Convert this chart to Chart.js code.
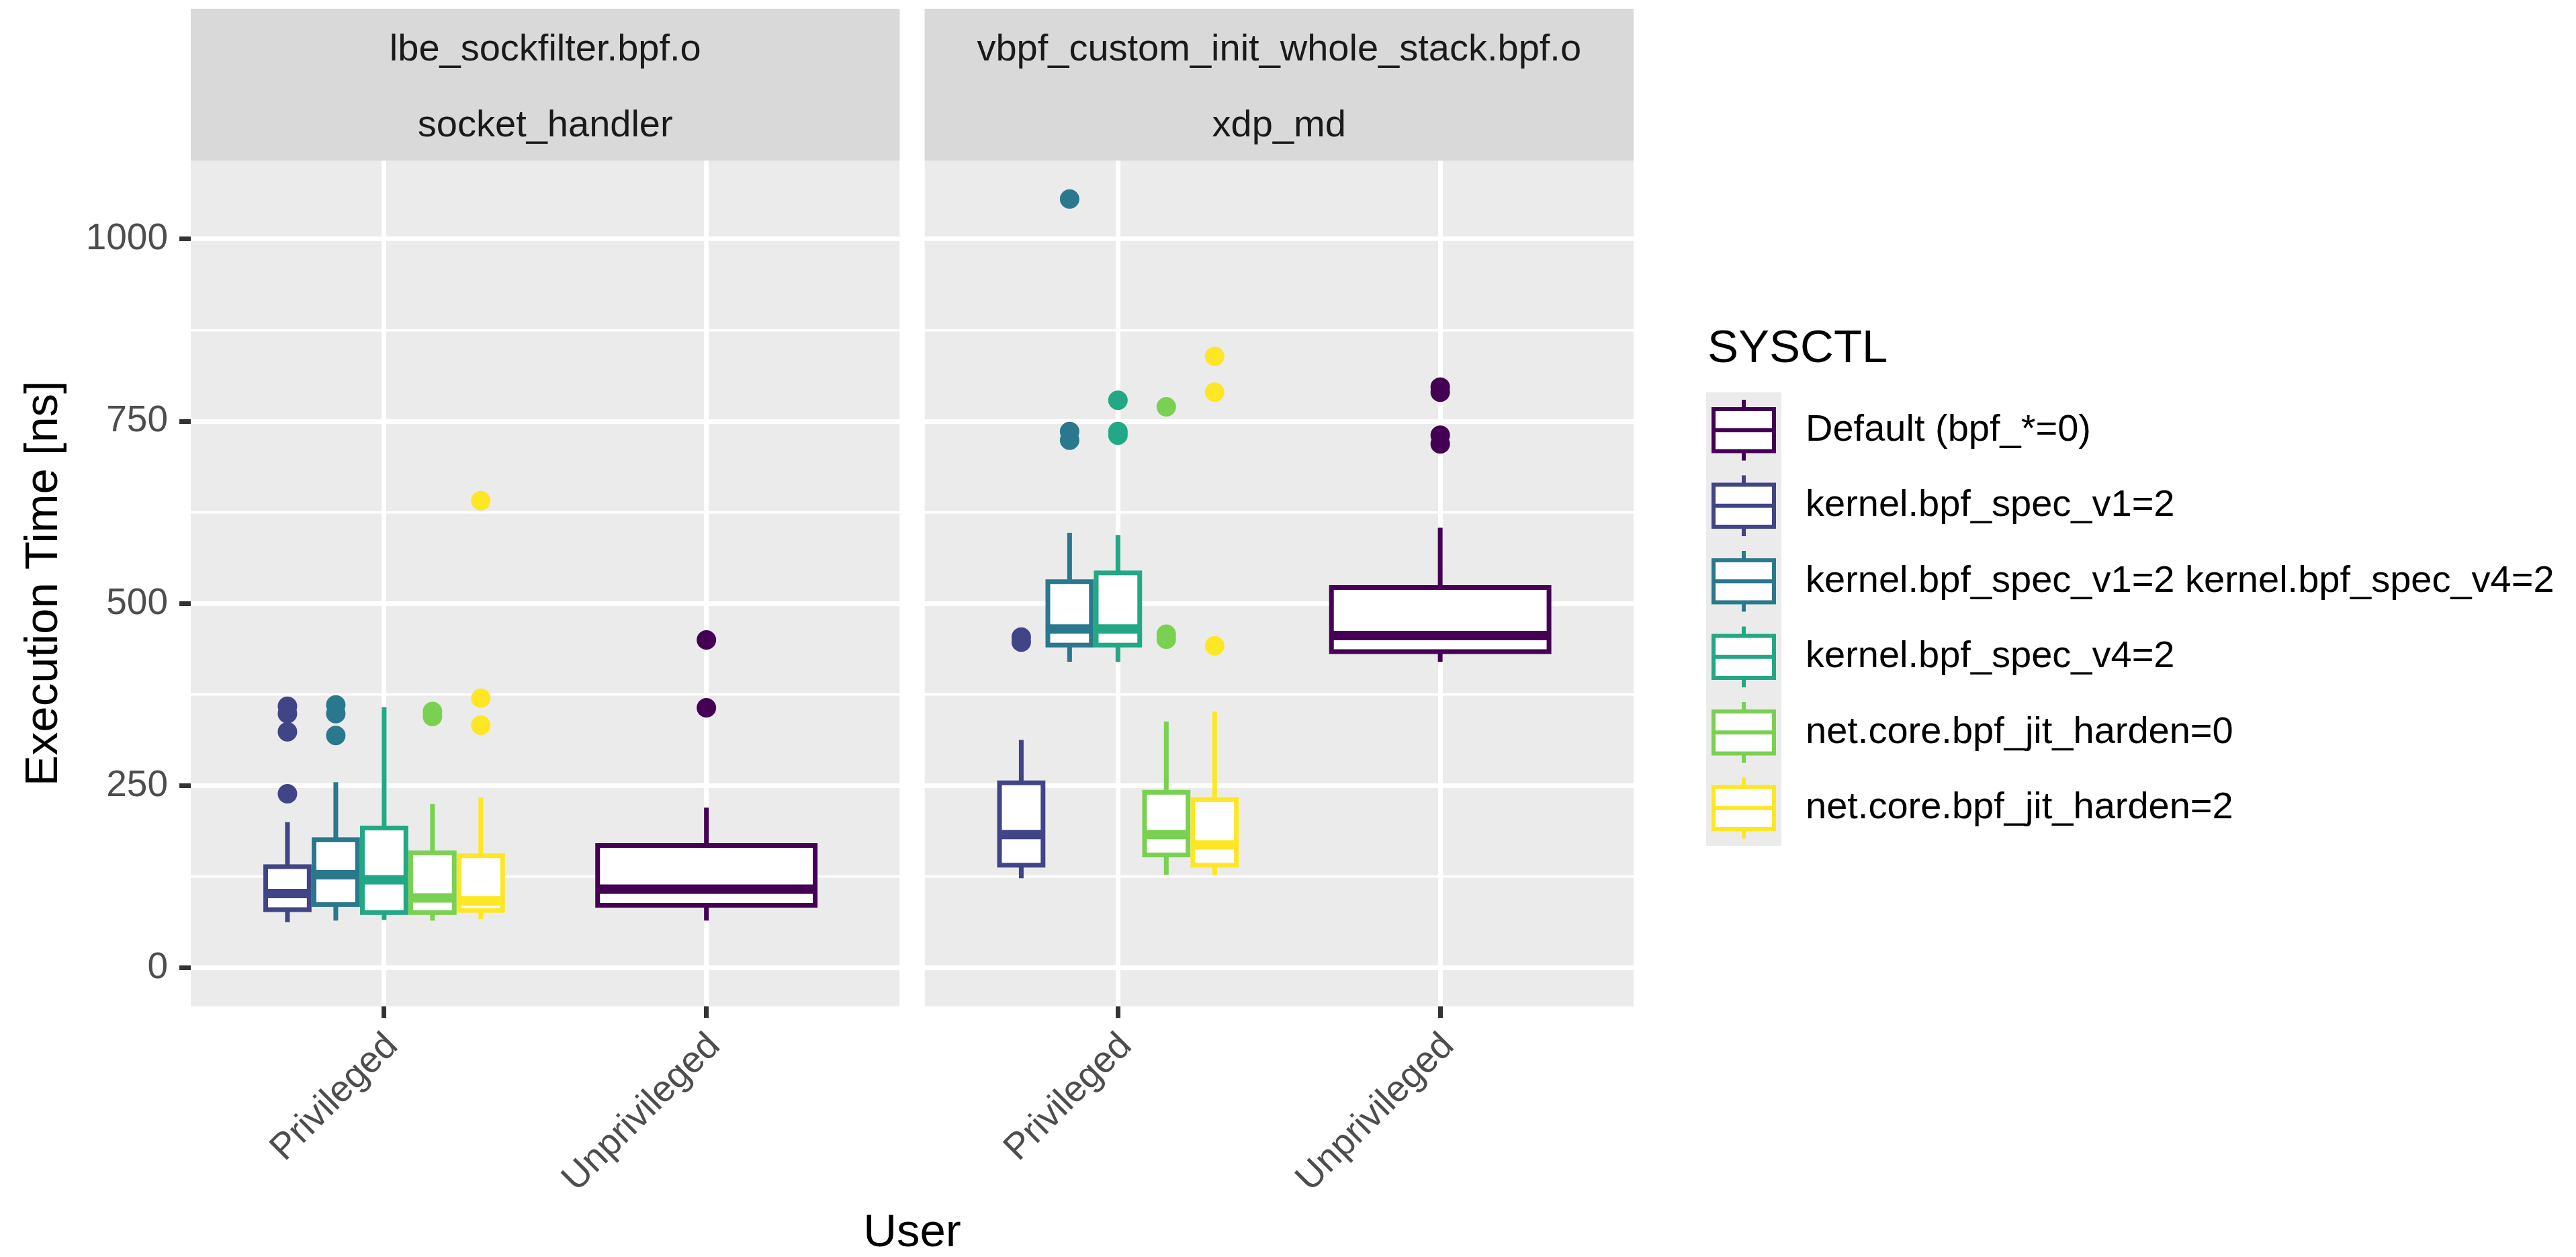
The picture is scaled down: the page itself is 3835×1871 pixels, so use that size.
<!DOCTYPE html>
<html>
<head>
<meta charset="utf-8">
<script src="https://cdn.jsdelivr.net/npm/chart.js@4.4.0/dist/chart.umd.min.js"></script>
<style>
  html, body { margin: 0; padding: 0; background: #ffffff; }
  #wrap { position: relative; width: 3835px; height: 1871px; }
</style>
</head>
<body>
<div id="wrap"><canvas id="chart" width="3835" height="1871"></canvas></div>
<script>
// facets (strip text, two lines each)
const panelTitles = [
  ['lbe_sockfilter.bpf.o', 'socket_handler'],
  ['vbpf_custom_init_whole_stack.bpf.o', 'xdp_md']
];
const users = ['Privileged', 'Unprivileged'];

const sysctlNames = [
  'Default (bpf_*=0)',
  'kernel.bpf_spec_v1=2',
  'kernel.bpf_spec_v1=2 kernel.bpf_spec_v4=2',
  'kernel.bpf_spec_v4=2',
  'net.core.bpf_jit_harden=0',
  'net.core.bpf_jit_harden=2'
];
const sysctlColors = ['#440154', '#414487', '#2A788E', '#22A884', '#7AD151', '#FDE725'];
// which user group each SYSCTL appears under (index into users)
const sysctlUser = [1, 0, 0, 0, 0, 0];

const yMajorTicks = [0, 250, 500, 750, 1000];
const yMinorTicks = [125, 375, 625, 875];

// [lower whisker, q1, median, q3, upper whisker], one row per SYSCTL
const sockStats = [
  [65, 86, 108, 168, 220],
  [63, 80, 102, 139, 200],
  [65, 87, 128, 176, 255],
  [66, 76, 121, 192, 358],
  [65, 76, 96, 158, 225],
  [67, 79, 92, 154, 234]
];
const sockOutliers = [
  [450, 357],
  [359, 349, 324, 239],
  [361, 349, 319],
  [],
  [352, 345],
  [641, 370, 333]
];
const xdpStats = [
  [420, 434, 456, 522, 604],
  [123, 141, 183, 254, 313],
  [420, 443, 465, 530, 597],
  [420, 443, 465, 542, 594],
  [128, 155, 183, 241, 338],
  [128, 141, 169, 231, 352]
];
const xdpOutliers = [
  [797, 790, 731, 719],
  [454, 447],
  [1055, 736, 724],
  [779, 736, 731],
  [770, 458, 451],
  [839, 790, 442]
];
const panelStats = [sockStats, xdpStats];
const panelOutliers = [sockOutliers, xdpOutliers];

// layout of the dodged boxes (in x units, one unit per user category)
const dodgeWidth = 0.75;
const boxPadding = 0.1;
const panelGap = 0.077;
const panelSpan = 2.2 + panelGap;

function groupOf(s) {
  const u = sysctlUser[s];
  const members = [];
  sysctlUser.forEach((v, i) => { if (v === u) members.push(i); });
  return { u, n: members.length, k: members.indexOf(s) };
}
function seriesX(p, s) {
  const g = groupOf(s);
  const slot = dodgeWidth / g.n;
  return p * panelSpan + (g.u + 1) - dodgeWidth / 2 + slot * (g.k + 0.5);
}
function boxHalfWidth(s) {
  return dodgeWidth / groupOf(s).n * (1 - boxPadding) / 2;
}

// y range like ggplot: 0 .. max, 5% expansion
const allValues = panelStats.flat(2).concat(panelOutliers.flat(2));
const yHi = Math.max(...allValues);
const yPad = 0.05 * yHi;

const FONT = "'Liberation Sans', Arial, Helvetica, sans-serif";
Chart.defaults.font.family = FONT;

const datasets = sysctlNames.map((name, s) => ({
  label: name,
  data: panelOutliers.flatMap((outs, p) => outs[s].map(v => ({ x: seriesX(p, s), y: v }))),
  backgroundColor: sysctlColors[s],
  borderColor: sysctlColors[s],
  pointRadius: 13.5,
  pointBorderWidth: 2,
  showLine: false
}));

const facetPlugin = {
  id: 'facets',
  beforeDraw(chart) {
    const { ctx, chartArea, scales: { x } } = chart;
    ctx.save();
    panelTitles.forEach((lines, p) => {
      const left = x.getPixelForValue(p * panelSpan + 0.4);
      const right = x.getPixelForValue(p * panelSpan + 2.6);
      ctx.fillStyle = '#EBEBEB';
      ctx.fillRect(left, chartArea.top, right - left, chartArea.bottom - chartArea.top);
      ctx.fillStyle = '#D9D9D9';
      ctx.fillRect(left, chartArea.top - 226, right - left, 226);
      ctx.fillStyle = '#1A1A1A';
      ctx.font = '56px ' + FONT;
      ctx.textAlign = 'center';
      ctx.textBaseline = 'alphabetic';
      ctx.fillText(lines[0], (left + right) / 2, chartArea.top - 149);
      ctx.fillText(lines[1], (left + right) / 2, chartArea.top - 36);
    });
    ctx.restore();
  },
  beforeDatasetsDraw(chart) {
    const { ctx, chartArea, scales: { x, y } } = chart;
    ctx.save();
    // white spacing between the two facets
    const gl = x.getPixelForValue(2.6), gr = x.getPixelForValue(panelSpan + 0.4);
    ctx.fillStyle = '#FFFFFF';
    ctx.fillRect(gl, chartArea.top - 1, gr - gl, chartArea.bottom - chartArea.top + 2);

    // boxes
    panelStats.forEach((stats, p) => {
      stats.forEach((st, s) => {
        const [lo, q1, med, q3, hi] = st;
        const xc = x.getPixelForValue(seriesX(p, s));
        const hw = boxHalfWidth(s);
        const xl = x.getPixelForValue(seriesX(p, s) - hw);
        const xr = x.getPixelForValue(seriesX(p, s) + hw);
        ctx.strokeStyle = sysctlColors[s];
        ctx.lineWidth = 7;
        ctx.beginPath();
        ctx.moveTo(xc, y.getPixelForValue(hi));
        ctx.lineTo(xc, y.getPixelForValue(q3));
        ctx.moveTo(xc, y.getPixelForValue(q1));
        ctx.lineTo(xc, y.getPixelForValue(lo));
        ctx.stroke();
        const yt = y.getPixelForValue(q3), yb = y.getPixelForValue(q1);
        ctx.fillStyle = '#FFFFFF';
        ctx.fillRect(xl, yt, xr - xl, yb - yt);
        ctx.strokeRect(xl, yt, xr - xl, yb - yt);
        ctx.lineWidth = 14;
        ctx.beginPath();
        ctx.moveTo(xl, y.getPixelForValue(med));
        ctx.lineTo(xr, y.getPixelForValue(med));
        ctx.stroke();
      });
    });
    ctx.restore();
  },
  afterDraw(chart) {
    // legend
    const { ctx, chartArea } = chart;
    const lx = chartArea.right + 108;
    const keyTop = 584, keyH = 112.5, keyW = 112;
    ctx.save();
    ctx.fillStyle = '#000000';
    ctx.font = '69px ' + FONT;
    ctx.textAlign = 'left';
    ctx.textBaseline = 'alphabetic';
    ctx.fillText('SYSCTL', lx + 2, 539);
    ctx.fillStyle = '#EBEBEB';
    ctx.fillRect(lx, keyTop, keyW, keyH * sysctlNames.length);
    sysctlNames.forEach((name, s) => {
      const top = keyTop + s * keyH;
      const cy = top + keyH / 2;
      const cx = lx + keyW / 2;
      ctx.strokeStyle = sysctlColors[s];
      ctx.lineWidth = 6;
      ctx.beginPath();
      ctx.moveTo(cx, top + 11);
      ctx.lineTo(cx, top + keyH - 11);
      ctx.stroke();
      ctx.fillStyle = '#FFFFFF';
      ctx.fillRect(lx + 11, top + 25, keyW - 22, keyH - 50);
      ctx.strokeRect(lx + 11, top + 25, keyW - 22, keyH - 50);
      ctx.beginPath();
      ctx.moveTo(lx + 11, cy);
      ctx.lineTo(lx + keyW - 11, cy);
      ctx.stroke();
      ctx.fillStyle = '#000000';
      ctx.font = '56px ' + FONT;
      ctx.textBaseline = 'middle';
      ctx.fillText(name, lx + 148, cy);
    });
    ctx.restore();
  }
};

const xTickValues = [0, 1].flatMap(p => users.map((u, i) => p * panelSpan + i + 1));

new Chart(document.getElementById('chart'), {
  type: 'scatter',
  data: { datasets },
  plugins: [facetPlugin],
  options: {
    responsive: false,
    animation: false,
    devicePixelRatio: 1,
    layout: { padding: { left: 0, top: 239, right: 1403, bottom: 0 } },
    plugins: { legend: { display: false }, tooltip: { enabled: false } },
    scales: {
      x: {
        type: 'linear',
        min: 0.4,
        max: panelSpan + 2.6,
        afterBuildTicks: s => { s.ticks = xTickValues.map(v => ({ value: v })); },
        afterFit: s => { s.height = 373; },
        border: { display: false },
        grid: {
          color: '#FFFFFF',
          lineWidth: 7,
          tickColor: '#333333',
          tickWidth: 7,
          tickLength: 17
        },
        ticks: {
          autoSkip: false,
          minRotation: 45,
          maxRotation: 45,
          padding: 10,
          labelOffset: 12,
          color: '#4D4D4D',
          font: { size: 55 },
          callback: (v, i) => users[i % users.length]
        },
        title: {
          display: true,
          text: 'User',
          color: '#000000',
          font: { size: 69, lineHeight: 1.0 },
          padding: { top: 0, bottom: 1 }
        }
      },
      y: {
        type: 'linear',
        min: -yPad,
        max: yHi + yPad,
        afterBuildTicks: s => {
          s.ticks = yMajorTicks.concat(yMinorTicks).sort((a, b) => a - b).map(v => ({ value: v }));
        },
        afterFit: s => { s.width = 284; },
        border: { display: false },
        grid: {
          color: '#FFFFFF',
          lineWidth: c => yMajorTicks.includes(c.tick.value) ? 7 : 3.5,
          tickColor: c => yMajorTicks.includes(c.tick.value) ? '#333333' : 'rgba(0,0,0,0)',
          tickWidth: 7,
          tickLength: 17
        },
        ticks: {
          autoSkip: false,
          padding: 17,
          color: '#4D4D4D',
          font: { size: 55 },
          callback: v => yMajorTicks.includes(v) ? String(v) : ''
        },
        title: {
          display: true,
          text: 'Execution Time [ns]',
          color: '#000000',
          font: { size: 69 },
          padding: { top: 25, bottom: 0 }
        }
      }
    }
  }
});
</script>
</body>
</html>
